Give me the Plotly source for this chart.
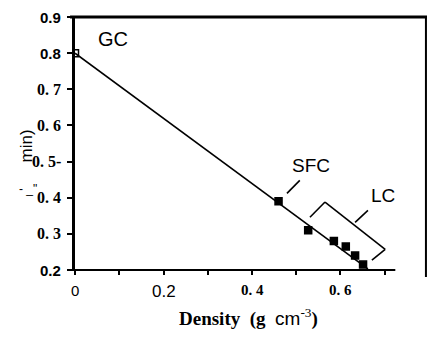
import plotly.graph_objects as go

# Measured values
density = [0.0, 0.46, 0.527, 0.585, 0.612, 0.633, 0.651]
value = [0.80, 0.39, 0.31, 0.28, 0.265, 0.24, 0.215]

# Straight-line fit through the series
fit_density = [0.0, 0.662]
fit_value = [0.80, 0.203]

x_ticks = [0.0, 0.2, 0.4, 0.6]
x_labels = ["0", "0.2", "0. 4", "0. 6"]
y_ticks = [0.2, 0.3, 0.4, 0.5, 0.6, 0.7, 0.8, 0.9]
y_labels = ["0.2", "0. 3", "0. 4", "0. 5-", "0. 6", "0. 7", "0.8", "0.9"]

SANS = "Liberation Sans"
SERIF = "Liberation Serif"

fig = go.Figure()

fig.add_trace(go.Scatter(
    x=fit_density, y=fit_value, mode="lines",
    line=dict(color="black", width=1.6), hoverinfo="skip", showlegend=False,
))

symbols = ["square-open"] + ["square"] * (len(density) - 1)
fig.add_trace(go.Scatter(
    x=density, y=value, mode="markers",
    marker=dict(symbol=symbols, size=7, color="black",
                line=dict(color="black", width=1.5)),
    showlegend=False,
))

# Tick labels, placed at the axis tick values with per-label fonts
for v, t in zip(x_ticks, x_labels):
    plain = t in ("0", "0.2")
    fig.add_annotation(
        x=v, y=0, xref="x", yref="paper", yanchor="top", yshift=-10, showarrow=False,
        text=t.replace(" ", "&nbsp;") if plain else "<b>" + t.replace(" ", "&nbsp;") + "</b>",
        font=dict(family=SANS if plain else SERIF, size=17 if t == "0.2" else 15,
                  color="black"),
    )
for v, t in zip(y_ticks, y_labels):
    sans = t in ("0.2", "0.8", "0.9")
    fig.add_annotation(
        x=0, y=v, xref="paper", yref="y", xanchor="right", xshift=-12, showarrow=False,
        text="<b>" + t.replace(" ", "&nbsp;") + "</b>",
        font=dict(family=SANS if sans else SERIF, size=15 if sans else 16, color="black"),
    )

# Group labels
for txt, x, y, s in [("GC", 0.085, 0.838, 20), ("SFC", 0.533, 0.49, 19),
                     ("LC", 0.697, 0.407, 19)]:
    fig.add_annotation(x=x, y=y, xref="x", yref="y", text=txt, showarrow=False,
                       font=dict(family=SANS, size=s, color="black"))

# SFC callout and LC bracket
segments = [
    ((0.508, 0.448), (0.479, 0.412)),
    ((0.531, 0.346), (0.565, 0.388)),
    ((0.565, 0.388), (0.701, 0.257)),
    ((0.701, 0.257), (0.671, 0.227)),
    ((0.633, 0.332), (0.662, 0.365)),
]
for (x0, y0), (x1, y1) in segments:
    fig.add_shape(type="line", xref="x", yref="y", x0=x0, y0=y0, x1=x1, y1=y1,
                  line=dict(color="black", width=1.6))

# Frame pieces
fig.add_shape(type="line", xref="paper", yref="paper", x0=-0.014, x1=1.0, y0=1, y1=1,
              line=dict(color="black", width=3))
fig.add_shape(type="line", xref="paper", yref="paper", x0=0.997, x1=0.997, y0=-0.028, y1=1,
              line=dict(color="black", width=2))
fig.add_shape(type="line", xref="paper", yref="paper", x0=-0.01, x1=0.91, y0=0, y1=0,
              line=dict(color="black", width=2))

pw, ph = 428 - 75 - 1, 344 - 17 - 74


def px(xp, yp):
    return (xp - 75) / pw, (344 - 74 - yp) / ph


# Axis title fragments and x title
ax, ay = px(15, 146)
fig.add_annotation(x=ax, y=ay, xref="paper", yref="paper", text="min)", textangle=-90,
                   showarrow=False, font=dict(family=SANS, size=17, color="black"))
ax, ay = px(17, 198)
fig.add_annotation(x=ax, y=ay, xref="paper", yref="paper", text='-&nbsp;_"', showarrow=False,
                   font=dict(family=SANS, size=12, color="black"))
ax, ay = px(248, 332)
fig.add_annotation(
    x=ax, y=ay, xref="paper", yref="paper", showarrow=False,
    text="<b>Density&nbsp;&nbsp;(g</b>&nbsp;&nbsp;"
         + '<span style="font-family:Liberation Sans">cm</span>'
         + "<sup>-3</sup><b>)</b>",
    font=dict(family=SERIF, size=19, color="black"),
)

fig.update_layout(
    width=428, height=344,
    margin=dict(l=75, r=1, t=17, b=74),
    paper_bgcolor="white", plot_bgcolor="white",
    font=dict(family=SERIF, size=14, color="black"),
    xaxis=dict(
        range=[0, 0.7955], tickvals=x_ticks, showticklabels=False,
        ticks="outside", ticklen=4, tickwidth=1.5, tickcolor="black",
        minor=dict(ticks="outside", tick0=0, dtick=0.1, ticklen=4, tickwidth=1.5,
                   tickcolor="black", showgrid=False),
        showgrid=False, zeroline=False, showline=False,
    ),
    yaxis=dict(
        range=[0.2, 0.9], tickvals=y_ticks, showticklabels=False,
        ticks="outside", ticklen=5, tickwidth=2, tickcolor="black",
        showgrid=False, zeroline=False, showline=True, linecolor="black", linewidth=2.5,
    ),
)

fig.write_html("out.html")
